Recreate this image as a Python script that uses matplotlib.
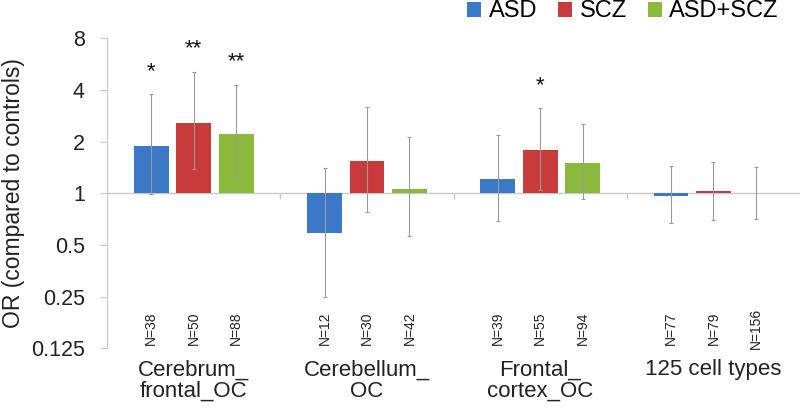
import matplotlib.pyplot as plt
import numpy as np

plt.rcParams['font.family'] = ['Liberation Sans', 'DejaVu Sans']

categories = ['Cerebrum_\nfrontal_OC', 'Cerebellum_\nOC', 'Frontal_\ncortex_OC', '125 cell types']
series = ['ASD', 'SCZ', 'ASD+SCZ']
colors = ['#3b78c6', '#c93a3a', '#8aba3c']

# odds ratios, per series (one value per category)
or_asd = [1.88, 0.59, 1.21, 0.965]
or_scz = [2.57, 1.54, 1.78, 1.03]
or_both = [2.20, 1.055, 1.50, 1.0]

# confidence intervals
lo_asd = [0.99, 0.25, 0.69, 0.67]
hi_asd = [3.77, 1.40, 2.18, 1.44]
lo_scz = [1.38, 0.78, 1.05, 0.70]
hi_scz = [5.09, 3.17, 3.12, 1.51]
lo_both = [1.23, 0.56, 0.92, 0.71]
hi_both = [4.26, 2.12, 2.52, 1.42]

n_asd = [38, 12, 39, 77]
n_scz = [50, 30, 55, 79]
n_both = [88, 42, 94, 156]

stars_asd = ['*', '', '', '']
stars_scz = ['**', '', '*', '']
stars_both = ['**', '', '', '']

yticks = [0.125, 0.25, 0.5, 1, 2, 4, 8]
ytick_labels = ['0.125', '0.25', '0.5', '1', '2', '4', '8']

values = [or_asd, or_scz, or_both]
lows = [lo_asd, lo_scz, lo_both]
highs = [hi_asd, hi_scz, hi_both]
ns = [n_asd, n_scz, n_both]
stars = [stars_asd, stars_scz, stars_both]

fig = plt.figure(figsize=(8, 4.15), dpi=100)
ax = fig.add_axes([0.134, 0.161, 0.866, 0.747])
ax.set_yscale('log', base=2)
ax.set_ylim(0.125, 8)
ax.set_xlim(0, 4)

centers = np.arange(len(categories)) + 0.5
offsets = [-0.245, 0, 0.245]
width = 0.2

for i in range(3):
    x = centers + offsets[i]
    v = np.array(values[i])
    ax.bar(x, v - 1, bottom=1, width=width, color=colors[i], label=series[i], zorder=2)
    yerr = [v - np.array(lows[i]), np.array(highs[i]) - v]
    ax.errorbar(x, v, yerr=yerr, fmt='none', ecolor='#9a9a9a', elinewidth=0.8,
                capsize=1.5, capthick=0.8, zorder=3)
    for xi, n in zip(x, ns[i]):
        ax.text(xi, 0.164, 'N=%d' % n, rotation=90, ha='center', va='center',
                fontsize=10, color='#222222',
                family=['Liberation Sans Narrow', 'Liberation Sans'])
    for xi, s, h in zip(x, stars[i], highs[i]):
        if s:
            ax.annotate(s, (xi, h), xytext=(0, 9), textcoords='offset points',
                        ha='center', va='bottom', fontsize=16, color='#111111')

# baseline at OR = 1 and group separators
ax.axhline(1, color='#c8c8c8', lw=1, zorder=1)
ax.vlines([1, 2, 3], 2 ** -0.12, 1, color='#c8c8c8', lw=1)

ax.set_yticks(yticks)
ax.set_yticklabels(ytick_labels)
ax.yaxis.set_minor_locator(plt.NullLocator())
ax.tick_params(axis='y', color='#c8c8c8', length=5, pad=11, labelsize=15.5,
               labelcolor='#222222')

ax.set_xticks(centers)
ax.set_xticklabels(categories, linespacing=1.05)
ax.tick_params(axis='x', length=0, pad=8, labelsize=16, labelcolor='#222222')

for side in ['top', 'right', 'bottom']:
    ax.spines[side].set_visible(False)
ax.spines['left'].set_color('#c8c8c8')

ax.set_ylabel('OR (compared to controls)', fontsize=16.5, color='#222222')
ax.yaxis.set_label_coords(-0.119, 0.5)

fig.legend(loc='upper right', bbox_to_anchor=(1.0, 1.05), ncol=3, frameon=False,
           fontsize=17, handlelength=0.6, handleheight=0.6, handletextpad=0.3,
           columnspacing=0.9)

plt.savefig('out.png', dpi=100)
